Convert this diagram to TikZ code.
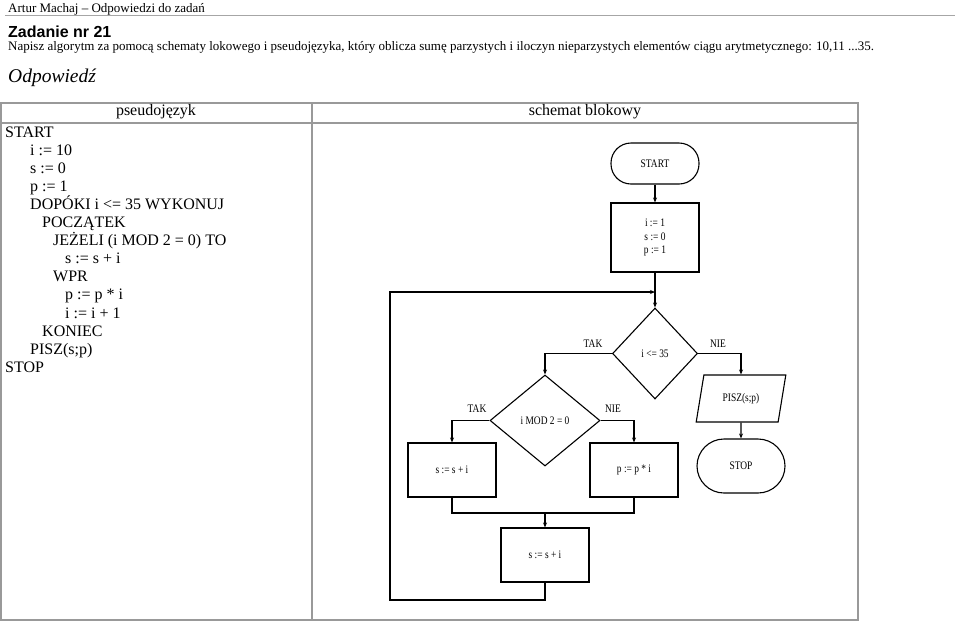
\documentclass[tikz,border=0pt]{standalone}
\usepackage{fontspec}
\setmainfont{Liberation Serif}
\newfontfamily\hsans{Liberation Sans}
\newfontfamily\narrow[FakeStretch=0.82]{Liberation Serif}
\usetikzlibrary{shapes.geometric,arrows.meta}
\begin{document}
\begin{tikzpicture}[x=1pt,y=-1pt,
  every node/.style={inner sep=0pt},
  hdr/.style={anchor=base west, font=\fontsize{13}{15}\selectfont},
  code/.style={anchor=base west, font=\fontsize{16}{18}\selectfont},
  tab/.style={draw=gray!80, line width=1.3pt},
  fc/.style={draw, line width=1.1pt, font=\narrow\fontsize{11.5}{13.5}\selectfont, align=center},
  term/.style={fc, rectangle, rounded corners=20pt, minimum width=88, minimum height=41},
  proc/.style={fc, rectangle, minimum width=88, minimum height=54},
  dec/.style={fc, diamond},
  io/.style={fc, trapezium, trapezium left angle=70, trapezium right angle=110, trapezium stretches=true, minimum width=90, minimum height=47},
  lbl/.style={font=\narrow\fontsize{11.5}{13.5}\selectfont},
  ln/.style={line width=1.1pt},
  arr/.style={ln, -{Stealth[length=5pt,width=4pt]}}
]
\useasboundingbox (0,0) rectangle (960,622);
% header
\node[hdr] (author) at (8,12) {Artur Machaj – Odpowiedzi do zadań};
\draw[gray!70, line width=1pt] (5,15) -- (955,15);
\node[anchor=base west, font=\hsans\bfseries\fontsize{16}{18}\selectfont] (title) at (8,37) {Zadanie nr 21};
\node[hdr] (task) at (8,50) {Napisz algorytm za pomocą schematy lokowego i pseudojęzyka, który oblicza sumę parzystych i iloczyn nieparzystych elementów ciągu arytmetycznego: 10,11 ...35.};
\node[anchor=base west, font=\itshape\fontsize{19.5}{22}\selectfont] (answer) at (8,82) {Odpowiedź};
% table
\draw[tab] (1,103) rectangle (858,620);
\draw[tab] (1,123) -- (858,123);
\draw[tab] (312,103) -- (312,620);
\node[anchor=base, font=\fontsize{16}{18}\selectfont] (h1) at (156,115) {pseudojęzyk};
\node[anchor=base, font=\fontsize{16}{18}\selectfont] (h2) at (585,115) {schemat blokowy};
% pseudocode
\node[code] (c1) at (5,137) {START};
\node[code] (c2) at (30,155.1) {i := 10};
\node[code] (c3) at (30,173.2) {s := 0};
\node[code] (c4) at (30,191.3) {p := 1};
\node[code] (c5) at (30,209.4) {DOPÓKI i <= 35 WYKONUJ};
\node[code] (c6) at (42,227.5) {POCZĄTEK};
\node[code] (c7) at (53,245.6) {JEŻELI (i MOD 2 = 0) TO};
\node[code] (c8) at (65,263.7) {s := s + i};
\node[code] (c9) at (53,281.8) {WPR};
\node[code] (c10) at (65,299.9) {p := p * i};
\node[code] (c11) at (65,318.0) {i := i + 1};
\node[code] (c12) at (42,336.1) {KONIEC};
\node[code] (c13) at (30,354.2) {PISZ(s;p)};
\node[code] (c14) at (5,372.3) {STOP};
% flowchart
\node[term] (start) at (655,163.5) {START};
\node[proc, minimum height=69] (init) at (655,237.5) {i := 1\\ s := 0\\ p := 1};
\node[dec, minimum width=85, minimum height=91] (d1) at (655,353.5) {i <= 35};
\node[dec, minimum width=110, minimum height=91] (d2) at (545,420.5) {i MOD 2 = 0};
\node[io] (pisz) at (741,398.5) {PISZ(s;p)};
\node[term, minimum height=54, rounded corners=27pt] (stop) at (741,466) {STOP};
\node[proc] (s1) at (452,470) {s := s + i};
\node[proc] (p1) at (634,470) {p := p * i};
\node[proc] (s2) at (545,555) {s := s + i};
\coordinate (jn) at (655,292);
\coordinate (mj) at (545,513);
\coordinate (lb) at (390,600);
\coordinate (lt) at (390,292);
\draw[arr] (start) -- (init);
\draw[arr] (init.south) -- (d1.north);
\draw[arr] (d1.west) -| (d2.north);
\draw[arr] (d1.east) -| (pisz.north);
\draw[arr] (pisz.south) -- (stop.north);
\draw[arr] (d2.west) -| (s1.north);
\draw[arr] (d2.east) -| (p1.north);
\draw[ln] (s1.south) |- (mj);
\draw[ln] (p1.south) |- (mj);
\draw[arr] (mj) -- (s2.north);
\draw[arr] (s2.south) |- (lb) -- (lt) -- (jn);
\node[lbl] (tak1) at (593,344) {TAK};
\node[lbl] (nie1) at (718,344) {NIE};
\node[lbl] (tak2) at (477,409) {TAK};
\node[lbl] (nie2) at (613,409) {NIE};
\end{tikzpicture}
\end{document}
